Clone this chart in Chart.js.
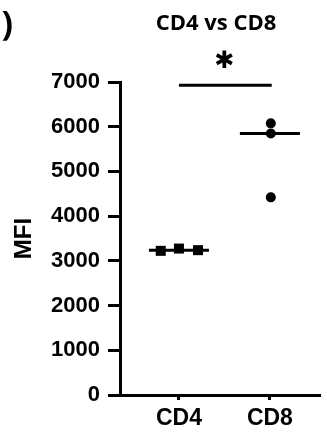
<!DOCTYPE html>
<html>
<head>
<meta charset="utf-8">
<script src="https://cdn.jsdelivr.net/npm/chart.js@4.4.1/dist/chart.umd.min.js"></script>
<style>
  html, body { margin: 0; padding: 0; background: #fff; }
  #wrap { width: 327px; height: 435px; }
</style>
</head>
<body>
<div id="wrap"><canvas id="c"></canvas></div>
<script>
const groups = ["CD4", "CD8"];
const cd4 = [3224, 3275, 3239];
const cd8 = [6075, 5850, 4420];
const jitterCd4 = [-0.2, 0, 0.21];
const jitterCd8 = [0.01, 0.01, 0.01];
const yTicks = [0, 1000, 2000, 3000, 4000, 5000, 6000, 7000];
const sigY = 6930;

const median = (arr) => {
  const s = [...arr].sort((a, b) => a - b);
  return s[Math.floor(s.length / 2)];
};

const half = 0.33;
const m4 = median(cd4), m8 = median(cd8);

// extra text: title, asterisk, panel bracket
const extras = {
  id: "extras",
  afterDraw(chart) {
    const { ctx, scales: { x, y } } = chart;
    ctx.save();
    ctx.fillStyle = "#000";
    ctx.textAlign = "center";
    ctx.textBaseline = "middle";
    ctx.font = "bold 22px 'Open Sans'";
    ctx.fillText("CD4 vs CD8", 216, 24);
    ctx.font = "bold 24px 'DejaVu Sans'";
    ctx.fillText("\u2731", x.getPixelForValue(1.5), y.getPixelForValue(sigY) - 23);
    ctx.textAlign = "right";
    ctx.font = "bold 34px 'Open Sans'";
    ctx.fillText(")", 13, 25);
    ctx.restore();
  }
};

const lineDs = (pts) => ({
  type: "line", data: pts, borderColor: "#000", borderWidth: 3,
  pointRadius: 0, showLine: true, fill: false, clip: false
});

new Chart(document.getElementById("c"), {
  type: "scatter",
  data: {
    datasets: [
      lineDs([{ x: 1 - half, y: m4 }, { x: 1 + half, y: m4 }]),
      lineDs([{ x: 2 - half, y: m8 }, { x: 2 + half, y: m8 }]),
      lineDs([{ x: 1, y: sigY }, { x: 2.02, y: sigY }]),
      {
        data: cd4.map((v, i) => ({ x: 1 + jitterCd4[i], y: v })),
        pointStyle: "rect", pointRadius: 7.07, backgroundColor: "#000", borderWidth: 0
      },
      {
        data: cd8.map((v, i) => ({ x: 2 + jitterCd8[i], y: v })),
        pointStyle: "circle", pointRadius: 5, backgroundColor: "#000", borderWidth: 0
      }
    ]
  },
  options: {
    responsive: true,
    maintainAspectRatio: false,
    animation: false,
    layout: { padding: { left: 0, right: 0, top: 82, bottom: 0 } },
    plugins: { legend: { display: false }, tooltip: { enabled: false } },
    scales: {
      x: {
        type: "linear", min: 0.352, max: 2.55,
        afterBuildTicks: (s) => { s.ticks = [{ value: 1 }, { value: 2 }]; },
        afterFit: (s) => { s.height = 40; },
        ticks: {
          callback: (v) => groups[v - 1] ?? "",
          color: "#000", padding: 5,
          font: { family: "'Liberation Sans'", size: 23, weight: "bold" }
        },
        grid: { drawOnChartArea: false, drawTicks: true, tickLength: 5, lineWidth: 3, color: "#000" },
        border: { display: true, width: 3, color: "#000" }
      },
      y: {
        min: 0, max: 7000,
        afterBuildTicks: (s) => { s.ticks = yTicks.map(v => ({ value: v })); },
        afterFit: (s) => { s.width = 120; },
        ticks: {
          callback: (v) => String(v),
          color: "#000", padding: 8,
          font: { family: "'Liberation Sans'", size: 22, weight: "bold" }
        },
        title: {
          display: true, text: "MFI", color: "#000",
          padding: { top: 10, bottom: 0 },
          font: { family: "'Liberation Sans'", size: 24, weight: "bold" }
        },
        grid: { drawOnChartArea: false, drawTicks: true, tickLength: 12, lineWidth: 3, color: "#000" },
        border: { display: true, width: 3, color: "#000" }
      }
    }
  },
  plugins: [extras]
});
</script>
</body>
</html>
